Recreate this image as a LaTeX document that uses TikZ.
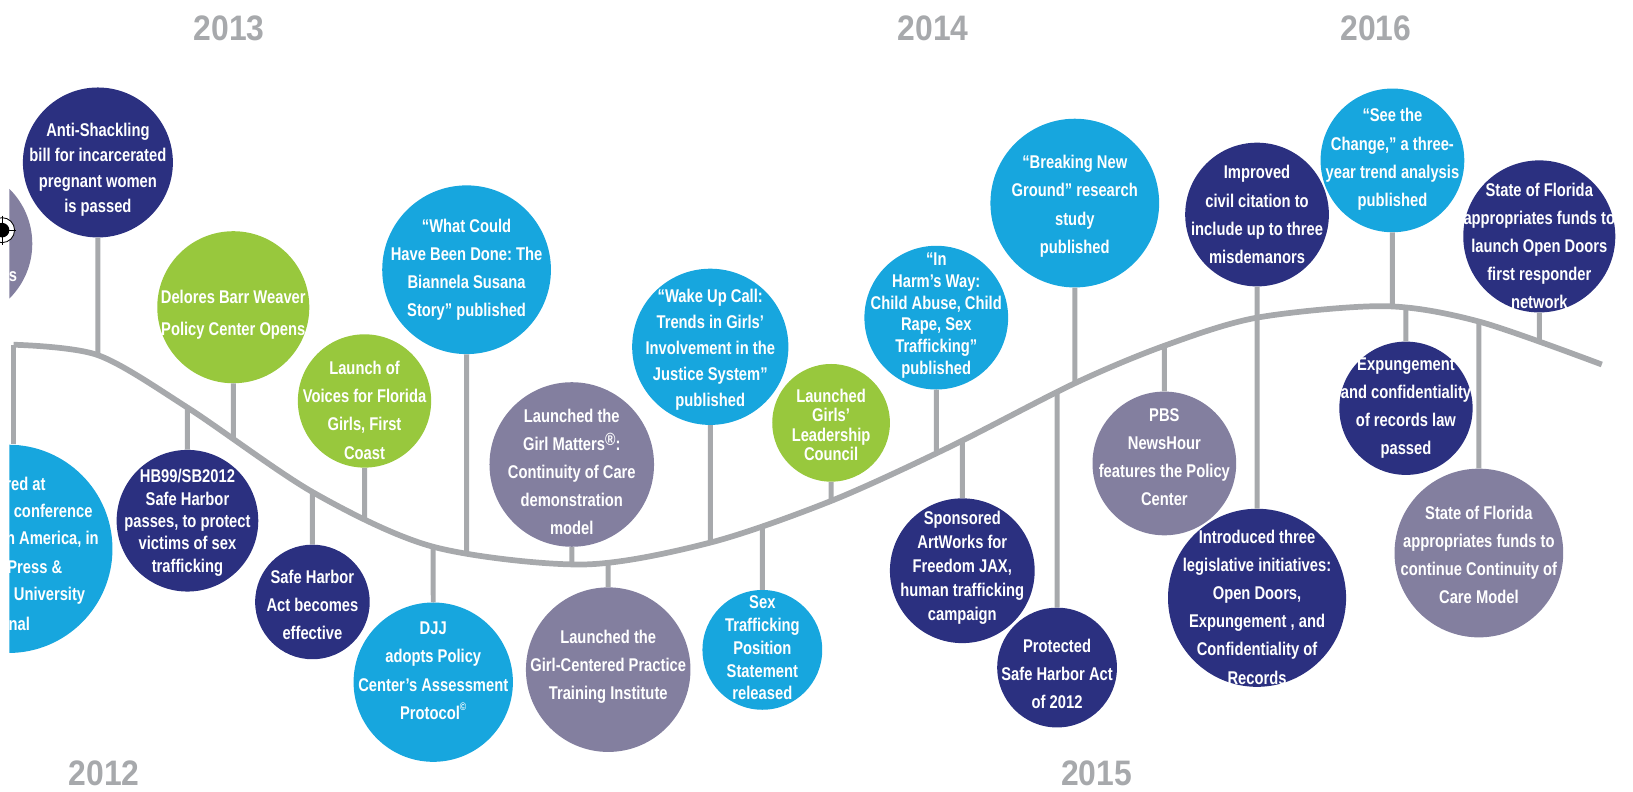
\documentclass[tikz,border=0pt]{standalone}
\usepackage{fontspec}
\usepackage{tikz}
\usetikzlibrary{intersections}
\newfontfamily\evfont{Liberation Sans}[FakeStretch=0.8]
\newfontfamily\yrfont{Liberation Sans}[FakeStretch=0.9]
\definecolor{deepblue}{HTML}{2B3080}
\definecolor{skyblue}{HTML}{17A6DE}
\definecolor{leaf}{HTML}{98C83D}
\definecolor{dusk}{HTML}{837F9F}
\definecolor{rail}{HTML}{A7A9AC}
\newcommand\regmark{\raisebox{.28em}{\fontsize{17}{17}\selectfont ®}}
\newcommand\copymark{\raisebox{.45em}{\fontsize{10.5}{10.5}\selectfont ©}}

\begin{document}
\begin{tikzpicture}[x=1pt,y=-1pt,
    txt/.style={text=white,align=center,inner sep=0pt,
      font=\evfont\bfseries\frenchspacing\fontsize{17.7}{#1}\selectfont},
    txt/.default=27]
  \tikzstyle{ev}=[circle,inner sep=0pt]
  \tikzstyle{year}=[text=rail,inner sep=0pt,font=\yrfont\bfseries\fontsize{34}{34}\selectfont]
  \tikzstyle{stem}=[draw=rail,line width=4.8pt]
  \tikzstyle{wave}=[draw=rail,line width=5.5pt]

  \useasboundingbox (0,0) rectangle (1568,760);

  % years
  \node[year] (y2013) at (220,27)  {2013};
  \node[year] (y2014) at (896,27)  {2014};
  \node[year] (y2016) at (1321,27) {2016};
  \node[year] (y2012) at (100,743) {2012};
  \node[year] (y2015) at (1053,743) {2015};

  \begin{scope}
  \clip (9,0) rectangle (1568,760);

  % circles cut by the left edge
  \node[ev,fill=dusk,minimum size=148pt]    (cutgray) at (-43,234) {};
  \node[txt,anchor=east] (cutgrayline) at (16.5,266) {s};
  \node[ev,fill=skyblue,minimum size=200pt] (cutcyan) at (8,527) {};
  \foreach \t/\x/\y [count=\i] in {red at/44/465, conference/89/491,
      {h America, in}/95/518, Press \&/60/545, n University/82/572, nal/29/599}
    \node[txt,anchor=east] (cutline\i) at (\x,\y) {\t};

  % events above and below the line
  \node[ev,fill=deepblue,minimum size=144pt] (antishack) at (94,156)
    [label={[txt=24.5,yshift=-7pt]center:{Anti-Shackling\\bill for incarcerated\\pregnant women\\is passed}}] {};
  \node[ev,fill=leaf,minimum size=146pt] (delores) at (224,295)
    [label={[txt=31,yshift=-7pt]center:{Delores Barr Weaver\\Policy Center Opens}}] {};
  \node[ev,fill=deepblue,minimum size=136pt] (hb99) at (180,500)
    [label={[txt=21.5,yshift=-2pt]center:{HB99/SB2012\\Safe Harbor\\passes, to protect\\victims of sex\\trafficking}}] {};
  \node[ev,fill=leaf,minimum size=128pt] (voices) at (350,385)
    [label={[txt,yshift=-9pt]center:{Launch of\\Voices for Florida\\Girls, First\\Coast}}] {};
  \node[ev,fill=deepblue,minimum size=110pt] (safeact) at (300,578)
    [label={[txt,yshift=-3pt]center:{Safe Harbor\\Act becomes\\effective}}] {};
  \node[ev,fill=skyblue,minimum size=162pt] (whatcould) at (448,259)
    [label={[txt]center:{“What Could\\Have Been Done: The\\Biannela Susana\\Story” published}}] {};
  \node[ev,fill=skyblue,minimum size=153pt] (djj) at (416,655)
    [label={[txt,yshift=11pt]center:{DJJ\\adopts Policy\\Center’s Assessment\\Protocol\copymark}}] {};
  \node[ev,fill=dusk,minimum size=158pt] (girlmatters) at (549,446)
    [label={[txt,yshift=-7pt]center:{Launched the\\Girl Matters\regmark:\\Continuity of Care\\demonstration\\model}}] {};
  \node[ev,fill=dusk,minimum size=158pt] (girlcentered) at (584,643)
    [label={[txt,yshift=3pt]center:{Launched the\\Girl-Centered Practice\\Training Institute}}] {};
  \node[ev,fill=skyblue,minimum size=150pt] (wakeup) at (682,333)
    [label={[txt=25,yshift=-3pt]center:{“Wake Up Call:\\Trends in Girls’\\Involvement in the\\Justice System”\\published}}] {};
  \node[ev,fill=skyblue,minimum size=115pt] (sex) at (732,624)
    [label={[txt=22,yshift=2pt]center:{Sex\\Trafficking\\Position\\Statement\\released}}] {};
  \node[ev,fill=leaf,minimum size=113pt] (leadership) at (798,406)
    [label={[txt=18.5,yshift=-2pt]center:{Launched\\Girls’\\Leadership\\Council}}] {};
  \node[ev,fill=skyblue,minimum size=138pt] (inharm) at (899,305)
    [label={[txt=21,yshift=2pt]center:{“In\\Harm’s Way:\\Child Abuse, Child\\Rape, Sex\\Trafficking”\\published}}] {};
  \node[ev,fill=deepblue,minimum size=139pt] (sponsored) at (924,548)
    [label={[txt=23,yshift=3pt]center:{Sponsored\\ArtWorks for\\Freedom JAX,\\human trafficking\\campaign}}] {};
  \node[ev,fill=skyblue,minimum size=162pt] (breaking) at (1032,195)
    [label={[txt,yshift=-3pt]center:{“Breaking New\\Ground” research\\study\\published}}] {};
  \node[ev,fill=deepblue,minimum size=115pt] (protected) at (1015,641)
    [label={[txt,yshift=-6pt]center:{Protected\\Safe Harbor Act\\of 2012}}] {};
  \node[ev,fill=dusk,minimum size=138pt] (pbs) at (1118,445)
    [label={[txt,yshift=6pt]center:{PBS\\NewsHour\\features the Policy\\Center}}] {};
  \node[ev,fill=deepblue,minimum size=138pt] (improved) at (1207,206)
    [label={[txt]center:{Improved\\civil citation to\\include up to three\\misdemanors}}] {};
  \node[ev,fill=deepblue,minimum size=171pt] (introduced) at (1207,574)
    [label={[txt,yshift=-9pt]center:{Introduced three\\legislative initiatives:\\Open Doors,\\Expungement , and\\Confidentiality of\\Records}}] {};
  \node[ev,fill=skyblue,minimum size=138pt] (see) at (1337,154)
    [label={[txt,yshift=1pt]center:{“See the\\Change,” a three-\\year trend analysis\\published}}] {};
  \node[ev,fill=deepblue,minimum size=128pt] (expunge) at (1350,392)
    [label={[txt]center:{Expungement\\and confidentiality\\of records law\\passed}}] {};
  \node[ev,fill=deepblue,minimum size=146pt] (launch) at (1478,227)
    [label={[txt,yshift=-9pt]center:{State of Florida\\appropriates funds to\\launch Open Doors\\first responder\\network}}] {};
  \node[ev,fill=dusk,minimum size=162pt] (continue) at (1420,531)
    [label={[txt,yshift=-2pt]center:{State of Florida\\appropriates funds to\\continue Continuity of\\Care Model}}] {};

  % the time line
  \coordinate (railstart) at (13,331);
  \draw[wave,name path=line] plot[smooth] coordinates {(railstart) (94,341) (181,392)
    (301,473) (416,525) (560,542) (682,521) (798,481) (910,430) (1032,368)
    (1118,332) (1207,305) (1330,294) (1421,309) (1538,350)};
  \draw[stem] (railstart) -- (railstart |- cutcyan.north);

  % stems from each event down or up to the line
  \foreach \ev in {antishack,delores,hb99,voices,safeact,whatcould,djj,
      girlmatters,girlcentered,wakeup,sex,leadership,inharm,sponsored,
      breaking,protected,pbs,improved,introduced,see,expunge,launch,continue}{
    \path[name path=drop] (\ev.center) ++(0,-700) -- ++(0,1400);
    \draw[stem,name intersections={of=line and drop}] (\ev) -- (intersection-1);
  }
  \end{scope}

  % crop mark on the left edge
  \draw[line width=0.8pt,fill=white] (2,221) circle (12);
  \fill (2,221) circle (7);
  \draw[line width=0.8pt] (-12,221) -- (15,221) (2,207) -- (2,235);
\end{tikzpicture}
\end{document}
